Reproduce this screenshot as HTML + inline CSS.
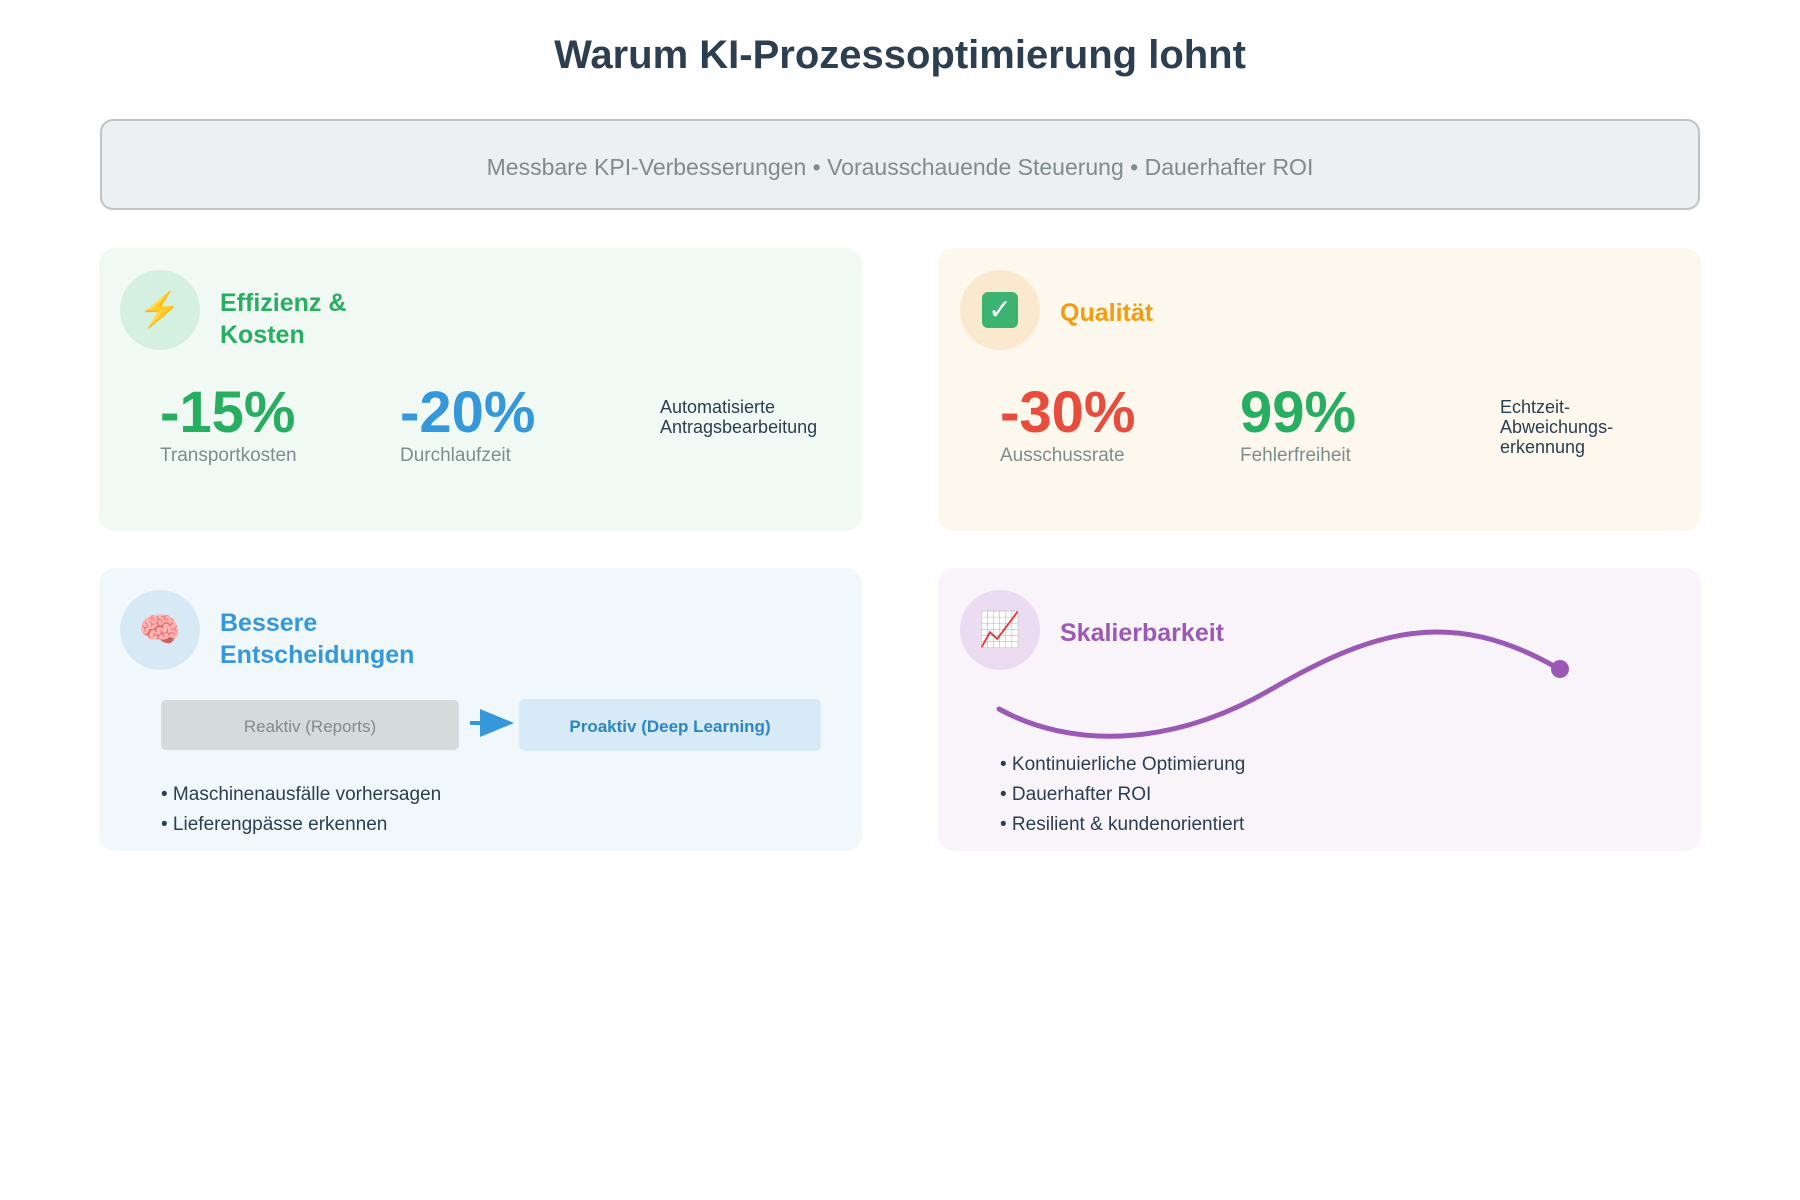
<!DOCTYPE html>
<html><head><meta charset="utf-8"><style>
*{margin:0;padding:0;box-sizing:border-box}
body{width:1800px;height:1200px;background:#fff;font-family:"Liberation Sans",sans-serif;position:relative;overflow:hidden;color:#2c3e50}
.a{position:absolute}
h1{position:absolute;left:0;width:1800px;top:33px;text-align:center;font-size:40px;font-weight:bold;color:#2c3e50}
.banner{left:100px;top:119px;width:1600px;height:91px;background:#ecf0f1;border:2px solid #bdc3c7;border-radius:13px;text-align:center;line-height:93px;font-size:23px;color:#7f8c8d}
.card{border-radius:16px;width:763px;height:283px}
.ic{width:80px;height:80px;border-radius:50%;display:flex;align-items:center;justify-content:center;font-size:34px}
.hd{font-size:25px;font-weight:bold;line-height:32px}
.big{font-size:58px;font-weight:bold;line-height:60px}
.lbl{font-size:19px;color:#7f8c8d}
.sm{font-size:18px;line-height:20px;color:#2c3e50}
.bl{font-size:19px;line-height:30px;color:#2c3e50}
</style></head><body>
<h1>Warum KI-Prozessoptimierung lohnt</h1>
<div class="a banner">Messbare KPI-Verbesserungen • Vorausschauende Steuerung • Dauerhafter ROI</div>

<div class="a card" style="left:99px;top:248px;background:#f1f9f4"></div>
<div class="a ic" style="left:120px;top:270px;background:#d5efe0;color:#e67e22">⚡</div>
<div class="a hd" style="left:220px;top:287px;color:#27ae60">Effizienz &amp;<br>Kosten</div>
<div class="a big" style="left:160px;top:383px;color:#27ae60">-15%</div>
<div class="a lbl" style="left:160px;top:445px">Transportkosten</div>
<div class="a big" style="left:400px;top:383px;color:#3498db">-20%</div>
<div class="a lbl" style="left:400px;top:445px">Durchlaufzeit</div>
<div class="a sm" style="left:660px;top:397px">Automatisierte<br>Antragsbearbeitung</div>

<div class="a card" style="left:938px;top:248px;background:#fdf8ee"></div>
<div class="a ic" style="left:960px;top:270px;background:#fbe9cf"><span style="display:block;width:36px;height:36px;border-radius:6px;background:#3cb371;color:#fff;font-size:28px;line-height:36px;text-align:center">✓</span></div>
<div class="a hd" style="left:1060px;top:297px;color:#f39c12">Qualität</div>
<div class="a big" style="left:1000px;top:383px;color:#e74c3c">-30%</div>
<div class="a lbl" style="left:1000px;top:445px">Ausschussrate</div>
<div class="a big" style="left:1240px;top:383px;color:#27ae60">99%</div>
<div class="a lbl" style="left:1240px;top:445px">Fehlerfreiheit</div>
<div class="a sm" style="left:1500px;top:397px">Echtzeit-<br>Abweichungs-<br>erkennung</div>

<div class="a card" style="left:99px;top:568px;background:#f1f8fb"></div>
<div class="a ic" style="left:120px;top:590px;background:#d8e9f6">🧠</div>
<div class="a hd" style="left:220px;top:607px;color:#3498db">Bessere<br>Entscheidungen</div>
<div class="a" style="left:161px;top:700px;width:298px;height:50px;background:#d5dbdb;border-radius:5px;text-align:center;line-height:54px;font-size:17px;color:#7f8c8d">Reaktiv (Reports)</div>
<svg class="a" style="left:468px;top:705px" width="50" height="36"><line x1="2" y1="18" x2="20" y2="18" stroke="#3498db" stroke-width="4"/><polygon points="12,4 46,18 12,32" fill="#3498db"/></svg>
<div class="a" style="left:519px;top:699px;width:302px;height:52px;background:#d6eaf8;border-radius:6px;text-align:center;line-height:56px;font-size:17px;font-weight:bold;color:#2e86c1">Proaktiv (Deep Learning)</div>
<div class="a bl" style="left:161px;top:780px">• Maschinenausfälle vorhersagen<br>• Lieferengpässe erkennen</div>

<div class="a card" style="left:938px;top:568px;background:#f8f4fa"></div>
<div class="a ic" style="left:960px;top:590px;background:#ecdcf1">📈</div>
<div class="a hd" style="left:1060px;top:617px;color:#9b59b6">Skalierbarkeit</div>
<svg class="a" style="left:0;top:0" width="1800" height="1200"><path d="M999 709 C1070 748 1170 748 1270 690 S1450 605 1559 669" fill="none" stroke="#9b59b6" stroke-width="5" stroke-linecap="round"/><circle cx="1560" cy="669" r="9" fill="#9b59b6"/></svg>
<div class="a bl" style="left:1000px;top:750px">• Kontinuierliche Optimierung<br>• Dauerhafter ROI<br>• Resilient &amp; kundenorientiert</div>
</body></html>
